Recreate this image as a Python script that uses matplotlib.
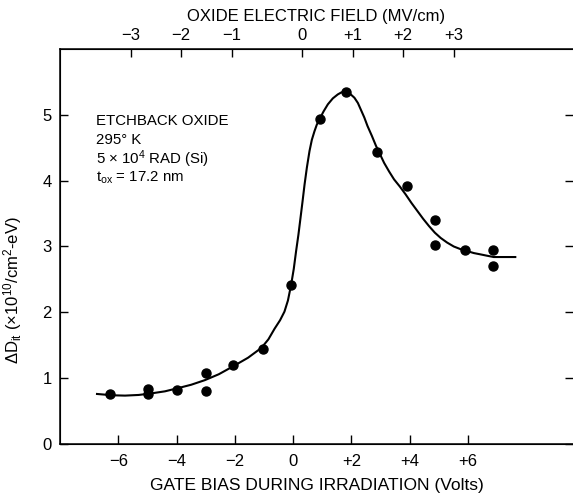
import matplotlib
matplotlib.use("Agg")
import matplotlib.pyplot as plt

plt.rcParams['font.family'] = ['Liberation Sans', 'DejaVu Sans']
plt.rcParams['mathtext.fontset'] = 'custom'
plt.rcParams['mathtext.rm'] = 'Liberation Sans'
plt.rcParams['mathtext.it'] = 'Liberation Sans'

# measured points: gate bias (V) vs delta Dit (1e10 /cm^2-eV)
bias_pts = [-6.28, -4.98, -4.98, -3.99, -3.0, -3.0, -2.06, -1.05, -0.08,
            0.91, 1.81, 2.87, 3.89, 4.87, 4.87, 5.89, 6.85, 6.85]
dit_pts = [0.76, 0.84, 0.76, 0.82, 1.08, 0.80, 1.20, 1.45, 2.42,
           4.93, 5.35, 4.43, 3.92, 3.41, 3.03, 2.94, 2.94, 2.70]

# hand drawn fit curve
curve_x = [-6.73, -6.2, -5.77, -5.3, -4.85, -4.4, -3.94, -3.5, -3.03, -2.55,
           -2.06, -1.55, -1.09, -0.85, -0.64, -0.45, -0.30, -0.18, -0.07, 0.02,
           0.10, 0.18, 0.25, 0.32, 0.39, 0.47, 0.56, 0.64, 0.73, 0.81, 0.90,
           1.04, 1.19, 1.36, 1.53, 1.65, 1.75, 1.81, 1.95, 2.10, 2.22, 2.32,
           2.44, 2.55, 2.70, 2.84, 2.98, 3.12, 3.29, 3.46, 3.66, 3.86, 4.06,
           4.26, 4.46, 4.66, 4.86, 5.06, 5.28, 5.51, 5.74, 5.97, 6.20, 6.43,
           6.65, 6.88, 7.25, 7.62]
curve_y = [0.76, 0.74, 0.735, 0.745, 0.77, 0.80, 0.85, 0.90, 0.97, 1.06,
           1.18, 1.31, 1.46, 1.59, 1.75, 1.88, 2.01, 2.18, 2.42, 2.66,
           2.93, 3.18, 3.43, 3.68, 3.94, 4.20, 4.45, 4.62, 4.75, 4.85, 4.93,
           5.05, 5.16, 5.25, 5.31, 5.34, 5.35, 5.35, 5.32, 5.26, 5.18, 5.08,
           4.96, 4.83, 4.68, 4.53, 4.40, 4.27, 4.14, 4.02, 3.91, 3.79, 3.66,
           3.54, 3.42, 3.31, 3.21, 3.13, 3.06, 3.00, 2.96, 2.93, 2.90, 2.88,
           2.86, 2.84, 2.84, 2.84]

bottom_ticks = [-6, -4, -2, 0, 2, 4, 6]
bottom_labels = ['\u22126', '\u22124', '\u22122', '0', '+2', '+4', '+6']
# oxide field ticks, placed at the gate bias they line up with
field_tick_bias = [-5.56, -3.85, -2.10, 0.31, 2.04, 3.77, 5.51]
field_labels = ['\u22123', '\u22122', '\u22121', '0', '+1', '+2', '+3']

fig = plt.figure(figsize=(5.73, 4.98), dpi=100)
ax = fig.add_axes([60 / 573, 1 - 444 / 498, 513 / 573, 395 / 498])

ax.plot(curve_x, curve_y, color='black', lw=1.5)
ax.plot(bias_pts, dit_pts, 'o', color='black', ms=6.5)

ax.set_xlim(-8, 9.6)
ax.set_ylim(0, 6)
ax.set_xticks(bottom_ticks, bottom_labels)
ax.set_yticks([0, 1, 2, 3, 4, 5])
ax.tick_params(axis='x', direction='in', length=6.5, width=1, labelsize=12, pad=7)
ax.tick_params(axis='y', direction='in', length=5.5, width=1, labelsize=12, pad=6,
               right=True)
ax.spines['right'].set_visible(False)
for s in ['left', 'top', 'bottom']:
    ax.spines[s].set_linewidth(1.1)

ax.set_xlabel('GATE BIAS DURING IRRADIATION (Volts)', fontsize=12.5, labelpad=7)
ax.set_ylabel('$\\Delta$D$_{\\rm it}$ (\u00d710$^{10}$/cm$^2$-eV)', fontsize=12)
ax.yaxis.set_label_coords(-0.07, 0.39)

ax2 = ax.twiny()
ax2.set_xlim(ax.get_xlim())
ax2.set_xticks(field_tick_bias, field_labels)
ax2.tick_params(axis='x', direction='in', length=5.5, width=1, labelsize=12, pad=4)
ax2.spines['right'].set_visible(False)
ax2.set_xlabel('OXIDE ELECTRIC FIELD (MV/cm)', fontsize=12, labelpad=5)

info = ['ETCHBACK OXIDE', '295\u00b0 K', '5 $\\times$ 10$^4$ RAD (Si)',
        't$_{\\rm ox}$ = 17.2 nm']
for i, line in enumerate(info):
    ax.text(-6.75, 4.9 - i * 0.285, line, fontsize=10.8, va='center', ha='left')

fig.savefig('out.png', dpi=100)
